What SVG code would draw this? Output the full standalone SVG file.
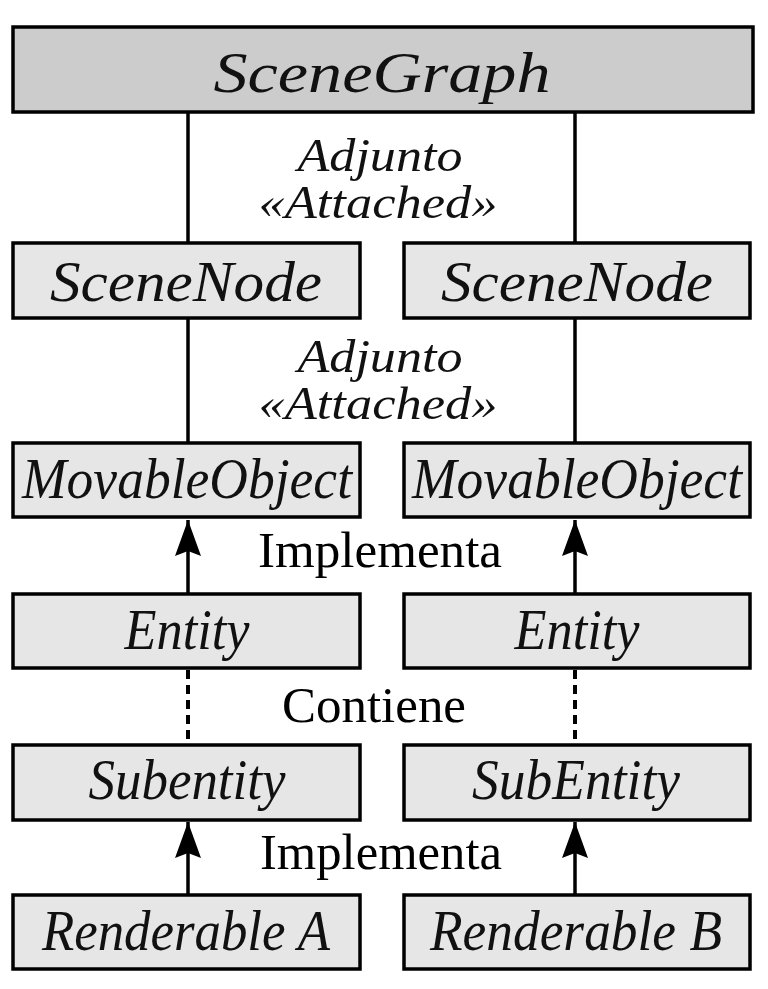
<svg xmlns="http://www.w3.org/2000/svg" width="768" height="989" viewBox="0 0 768 989">
<style>
.box{fill:#e6e6e6;stroke:#000;stroke-width:3.5}
.top{fill:#cccccc;stroke:#000;stroke-width:3.5}
.bt{font-family:"Liberation Serif",serif;font-style:italic;font-size:58px;fill:#111;text-anchor:middle}
.lb{font-family:"Liberation Serif",serif;font-style:italic;font-size:46px;fill:#111;text-anchor:middle}
.lr{font-family:"Liberation Serif",serif;font-size:50px;fill:#000;text-anchor:middle}
.ln{stroke:#000;stroke-width:3.5;fill:none}
.dt{stroke:#000;stroke-width:4;fill:none;stroke-dasharray:9 6}
</style>
<defs>
<marker id="ah" markerUnits="userSpaceOnUse" markerWidth="40" markerHeight="30" refX="37" refY="14" orient="auto" viewBox="0 0 40 28">
<path d="M37 14 L1 1 L6 14 L1 27 Z" fill="#000"/>
</marker>
</defs>
<rect width="768" height="989" fill="#fff"/>
<g id="connectors">
<line class="ln" x1="188" y1="112" x2="188" y2="242"/>
<line class="ln" x1="575" y1="112" x2="575" y2="242"/>
<line class="ln" x1="188" y1="318" x2="188" y2="442"/>
<line class="ln" x1="575" y1="318" x2="575" y2="442"/>
<line class="ln" x1="188" y1="593" x2="188" y2="520" marker-end="url(#ah)"/>
<line class="ln" x1="575" y1="593" x2="575" y2="520" marker-end="url(#ah)"/>
<line class="dt" x1="188" y1="670" x2="188" y2="744"/>
<line class="dt" x1="575" y1="670" x2="575" y2="744"/>
<line class="ln" x1="188" y1="894" x2="188" y2="822" marker-end="url(#ah)"/>
<line class="ln" x1="575" y1="894" x2="575" y2="822" marker-end="url(#ah)"/>
<text class="lb" x="380" y="171" textLength="165" lengthAdjust="spacingAndGlyphs">Adjunto</text>
<text class="lb" x="378" y="218" textLength="239" lengthAdjust="spacingAndGlyphs">«Attached»</text>
<text class="lb" x="380" y="372" textLength="165" lengthAdjust="spacingAndGlyphs">Adjunto</text>
<text class="lb" x="378" y="419" textLength="239" lengthAdjust="spacingAndGlyphs">«Attached»</text>
<text class="lr" x="380" y="567" textLength="244" lengthAdjust="spacingAndGlyphs">Implementa</text>
<text class="lr" x="374" y="722" textLength="184" lengthAdjust="spacingAndGlyphs">Contiene</text>
<text class="lr" x="381" y="869" textLength="242" lengthAdjust="spacingAndGlyphs">Implementa</text>
</g>
<g id="scenegraph">
<rect class="top" x="13" y="27" width="740" height="85"/>
<text class="bt" x="382" y="92" font-size="64" textLength="337" lengthAdjust="spacingAndGlyphs">SceneGraph</text>
</g>
<g id="scenenode-a">
<rect class="box" x="13" y="243" width="347" height="75"/>
<text class="bt" x="186" y="301" textLength="272" lengthAdjust="spacingAndGlyphs">SceneNode</text>
</g>
<g id="scenenode-b">
<rect class="box" x="404" y="243" width="346" height="75"/>
<text class="bt" x="577" y="301" textLength="272" lengthAdjust="spacingAndGlyphs">SceneNode</text>
</g>
<g id="movable-a">
<rect class="box" x="13" y="443" width="347" height="74"/>
<text class="bt" x="187" y="498" textLength="330" lengthAdjust="spacingAndGlyphs">MovableObject</text>
</g>
<g id="movable-b">
<rect class="box" x="404" y="443" width="346" height="74"/>
<text class="bt" x="577" y="498" textLength="330" lengthAdjust="spacingAndGlyphs">MovableObject</text>
</g>
<g id="entity-a">
<rect class="box" x="13" y="594" width="347" height="74"/>
<text class="bt" x="187" y="649" textLength="125" lengthAdjust="spacingAndGlyphs">Entity</text>
</g>
<g id="entity-b">
<rect class="box" x="404" y="594" width="346" height="74"/>
<text class="bt" x="577" y="649" textLength="125" lengthAdjust="spacingAndGlyphs">Entity</text>
</g>
<g id="subentity-a">
<rect class="box" x="13" y="745" width="347" height="75"/>
<text class="bt" x="187" y="799" textLength="197" lengthAdjust="spacingAndGlyphs">Subentity</text>
</g>
<g id="subentity-b">
<rect class="box" x="404" y="745" width="346" height="75"/>
<text class="bt" x="576" y="799" textLength="208" lengthAdjust="spacingAndGlyphs">SubEntity</text>
</g>
<g id="renderable-a">
<rect class="box" x="13" y="895" width="347" height="74"/>
<text class="bt" x="186" y="950" textLength="288" lengthAdjust="spacingAndGlyphs">Renderable A</text>
</g>
<g id="renderable-b">
<rect class="box" x="404" y="895" width="346" height="74"/>
<text class="bt" x="576" y="950" textLength="292" lengthAdjust="spacingAndGlyphs">Renderable B</text>
</g>
</svg>
